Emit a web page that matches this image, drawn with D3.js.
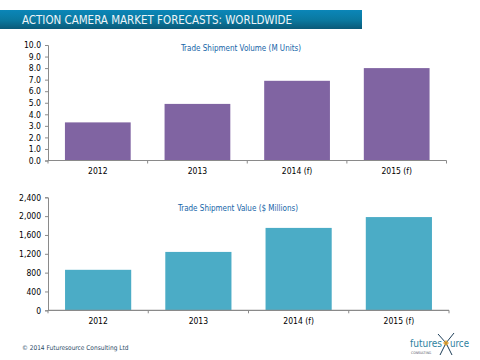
<!DOCTYPE html>
<html><head><meta charset="utf-8">
<script src="https://cdn.jsdelivr.net/npm/d3@7"></script>
<style>body{margin:0;background:#fff}svg{display:block}</style>
</head><body>
<svg id="c" width="480" height="360"></svg>
<script>
const categories = ["2012", "2013", "2014 (f)", "2015 (f)"];
const volumeValues = [3.3, 4.9, 6.9, 8.0];
const valueValues = [860, 1240, 1750, 1980];
const volumeTicks = [0,1,2,3,4,5,6,7,8,9,10];
const valueTicks = [0,400,800,1200,1600,2000,2400];
const title = "ACTION CAMERA MARKET FORECASTS: WORLDWIDE";
const volumeTitle = "Trade Shipment Volume (M Units)";
const valueTitle = "Trade Shipment Value  ($ Millions)";
const footer = "© 2014 Futuresource Consulting Ltd";

const svg = d3.select("#c");
const font = "Tahoma, 'DejaVu Sans Condensed', 'DejaVu Sans', sans-serif";

// Title bar
const defs = svg.append("defs");
const g1 = defs.append("linearGradient").attr("id","tb").attr("x1",0).attr("y1",0).attr("x2",0).attr("y2",1);
g1.append("stop").attr("offset","0%").attr("stop-color","#0b86b8");
g1.append("stop").attr("offset","55%").attr("stop-color","#0a789f");
g1.append("stop").attr("offset","100%").attr("stop-color","#0a5a78");
svg.append("rect").attr("x",0).attr("y",10).attr("width",362).attr("height",19).attr("fill","url(#tb)");
svg.append("text").attr("x",22).attr("y",24).attr("fill","#eef4f8")
  .attr("font-family",font).attr("font-size",12).attr("textLength",270).attr("lengthAdjust","spacingAndGlyphs")
  .text(title);

function chart(vals, ticks, fmt, color, yTop, yBottom, xRight, ttl, ttlX, ttlY, labY) {
  const x = d3.scaleBand().domain(categories).range([48, xRight]).paddingInner(0.34).paddingOuter(0.17);
  const y = d3.scaleLinear().domain([ticks[0], ticks[ticks.length-1]]).range([yBottom, yTop]);
  const g = svg.append("g");
  g.selectAll("rect.bar").data(vals).join("rect").attr("class","bar")
    .attr("x",(d,i)=>x(categories[i])).attr("width",x.bandwidth())
    .attr("y",d=>y(d)).attr("height",d=>yBottom-y(d)).attr("fill",color);
  // y axis
  const ya = g.append("g").attr("transform",`translate(48,0)`)
    .call(d3.axisLeft(y).tickValues(ticks).tickSize(3).tickPadding(4).tickFormat(fmt));
  ya.select(".domain").attr("stroke","#8a8a8a");
  ya.selectAll(".tick line").attr("stroke","#8a8a8a");
  ya.selectAll("text").attr("font-family",font).attr("font-size",8.5).attr("fill","#000");
  // x axis
  const xa = g.append("g").attr("transform",`translate(0,${yBottom})`)
    .call(d3.axisBottom(x).tickSize(0).tickPadding(0));
  xa.select(".domain").remove();
  xa.selectAll(".tick text").attr("dy",null).attr("y",labY - yBottom)
    .attr("font-family",font).attr("font-size",8.5).attr("fill","#000");
  g.append("line").attr("x1",48).attr("x2",xRight).attr("y1",yBottom).attr("y2",yBottom).attr("stroke","#8a8a8a").attr("stroke-width",1.2);
  const bounds = categories.map((c,i)=>48 + i*(xRight-48)/categories.length).concat([xRight]);
  g.selectAll("line.sep").data(bounds).join("line").attr("class","sep")
    .attr("x1",d=>d).attr("x2",d=>d).attr("y1",yBottom).attr("y2",yBottom+3).attr("stroke","#8a8a8a");
  g.append("text").attr("x",ttlX).attr("y",ttlY).attr("text-anchor","middle")
    .attr("font-family",font).attr("font-size",8).attr("fill","#1565a8").text(ttl);
}

chart(volumeValues, volumeTicks, d3.format(".1f"), "#8064a2", 45, 160.5, 446.5, volumeTitle, 241, 51, 174);
chart(valueValues, valueTicks, d3.format(","), "#4bacc6", 197.3, 310.3, 449, valueTitle, 238, 210.5, 324);

// Footer
svg.append("text").attr("x",22).attr("y",350).attr("font-family",font).attr("font-size",6.5)
  .attr("fill","#2a4a66").text(footer);
// Logo
const lg = svg.append("g");
lg.append("text").attr("x",410).attr("y",347).attr("font-family",font).attr("font-size",11)
  .attr("fill","#2c7fa0").attr("textLength",32).attr("lengthAdjust","spacingAndGlyphs").text("futures");
lg.append("text").attr("x",450).attr("y",347).attr("font-family",font).attr("font-size",11)
  .attr("fill","#2c7fa0").attr("textLength",19).attr("lengthAdjust","spacingAndGlyphs").text("urce");
lg.append("path").attr("d","M438,334 L446,343 L454,333 M446,343 L440,355 M446,343 L452,355")
  .attr("stroke","#1d3e58").attr("stroke-width",1).attr("fill","none");
lg.append("path").attr("d","M443,343 L446,340 L449,343 L446,346 Z").attr("fill","#e8a020").attr("opacity",0.8);
lg.append("text").attr("x",411).attr("y",354).attr("font-family",font).attr("font-size",3.5)
  .attr("fill","#556").text("CONSULTING");
</script>
</body></html>
